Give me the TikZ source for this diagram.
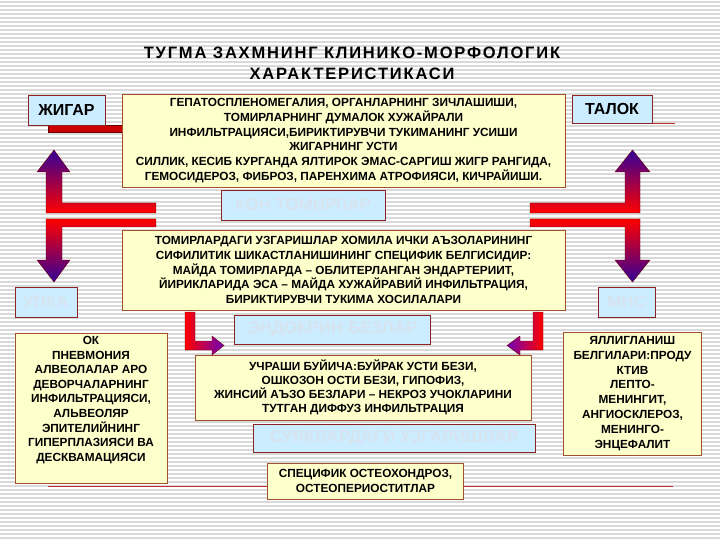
\documentclass[tikz,border=0pt]{standalone}
\usepackage{fontspec}
\setmainfont{Liberation Sans}
\newfontfamily\titlefont[LetterSpace=11]{Liberation Sans}
\definecolor{lblue}{HTML}{CCECFF}
\definecolor{lborder}{HTML}{8B2323}
\definecolor{ybg}{HTML}{FFFFCC}
\definecolor{yborder}{HTML}{A0522D}
\definecolor{fade}{HTML}{D6E4F0}
\definecolor{stripe}{HTML}{D9D9D9}
\definecolor{arrred}{HTML}{FF0000}
\definecolor{arrmid}{HTML}{CC0044}
\definecolor{arrblue}{HTML}{330099}
\definecolor{linered}{HTML}{C03030}
\definecolor{barred}{HTML}{CC0000}
\begin{document}
\begin{tikzpicture}[x=1pt,y=-1pt,
  stripeline/.style={draw=stripe,line width=1.1pt},
  lbox/.style={draw=lborder,fill=lblue,line width=0.8pt,inner sep=0pt,font=\bfseries\fontsize{16}{18}\selectfont},
  flbl/.style={lbox,text=fade,font=\bfseries\fontsize{17}{20}\selectfont},
  ybox/.style={draw=yborder,fill=ybg,line width=0.8pt,inner sep=0pt,align=center,font=\bfseries\fontsize{11.8}{14.8}\selectfont},
  ytext/.style={inner sep=0pt,align=center,font=\bfseries\fontsize{11.8}{14.6}\selectfont},
  titlestyle/.style={inner sep=0pt,font=\titlefont\bfseries\fontsize{16.5}{20}\selectfont},
  arrowshape/.style={draw=black!60!red,line width=0.4pt},
  thinred/.style={draw=linered,line width=0.9pt}]
\useasboundingbox (0,0) rectangle (720,540);
\fill[white] (0,0) rectangle (720,540);
\foreach \y in {2,6,...,538} \draw[stripeline] (0,\y) -- (720,\y);

% title
\node[titlestyle] (title1) at (352,53) {ТУГМА ЗАХМНИНГ КЛИНИКО-МОРФОЛОГИК};
\node[titlestyle] (title2) at (352,74) {ХАРАКТЕРИСТИКАСИ};

% red lines
\coordinate (barL) at (48,128.5);
\coordinate (barR) at (124,128.5);
\draw[draw=black!60!red,fill=barred,line width=0.4pt] (48,125) rectangle (124,132);
\coordinate (tlL) at (572,123);
\coordinate (tlR) at (675,123);
\draw[thinred] (tlL) -- (tlR);
\coordinate (blL) at (48,486);
\coordinate (blR) at (673,486);
\draw[thinred] (blL) -- (blR);

% big arrows
\shadedraw[arrowshape,top color=arrblue,middle color=arrmid,bottom color=arrred]
  (46,213) -- (46,172) -- (37,172) -- (54,150) -- (70,172) -- (62,172) -- (62,203) -- (156,203) -- (156,213) -- cycle;
\shadedraw[arrowshape,top color=arrred,middle color=arrmid,bottom color=arrblue]
  (46,219) -- (156,219) -- (156,227) -- (62,227) -- (62,260) -- (70,260) -- (54,282) -- (37,260) -- (46,260) -- cycle;
\shadedraw[arrowshape,top color=arrblue,middle color=arrmid,bottom color=arrred]
  (640,213) -- (640,172) -- (650,172) -- (632.5,150) -- (615,172) -- (625,172) -- (625,203) -- (530,203) -- (530,213) -- cycle;
\shadedraw[arrowshape,top color=arrred,middle color=arrmid,bottom color=arrblue]
  (640,219) -- (530,219) -- (530,227) -- (625,227) -- (625,260) -- (615,260) -- (632.5,282) -- (650,260) -- (640,260) -- cycle;

% small arrows
\shadedraw[arrowshape,left color=arrred,right color=arrblue!70!magenta]
  (185,312) -- (195,312) -- (195,341) -- (212,341) -- (212,336) -- (224,345.5) -- (212,355) -- (212,350) -- (185,350) -- cycle;
\shadedraw[arrowshape,left color=arrblue!70!magenta,right color=arrred]
  (543,312) -- (533,312) -- (533,341) -- (520,341) -- (520,336) -- (507,345.5) -- (520,355) -- (520,350) -- (543,350) -- cycle;

% label boxes
\node[lbox,minimum width=77pt,minimum height=30pt] (jigar) at (66.5,110) {ЖИГАР};
\node[lbox,minimum width=80pt,minimum height=28pt] (talok) at (612,109) {ТАЛОК};
\node[flbl,minimum width=164pt,minimum height=30pt] (kon) at (303,205) {КОН ТОМИРЛАР};
\node[flbl,minimum width=62pt,minimum height=30pt] (upka) at (46,302) {УПКА};
\node[flbl,minimum width=57pt,minimum height=30pt] (mns) at (626.5,302) {МНС};
\node[flbl,minimum width=196pt,minimum height=29pt] (endo) at (332.5,329.5) {ЭНДОКРИН БЕЗЛАР};
\node[flbl,minimum width=282pt,minimum height=28pt] (suyak) at (394,438) {СУЯКЛАРДАГИ УЗГАРИШЛАР};

% yellow boxes
\node[ybox,minimum width=443pt,minimum height=93pt] (top) at (343.5,140.5)
  {ГЕПАТОСПЛЕНОМЕГАЛИЯ, ОРГАНЛАРНИНГ ЗИЧЛАШИШИ,\\
   ТОМИРЛАРНИНГ ДУМАЛОК ХУЖАЙРАЛИ\\
   ИНФИЛЬТРАЦИЯСИ,БИРИКТИРУВЧИ ТУКИМАНИНГ УСИШИ\\
   ЖИГАРНИНГ УСТИ\\
   СИЛЛИК, КЕСИБ КУРГАНДА ЯЛТИРОК ЭМАС-САРГИШ ЖИГР РАНГИДА,\\
   ГЕМОСИДЕРОЗ, ФИБРОЗ, ПАРЕНХИМА АТРОФИЯСИ, КИЧРАЙИШИ.};
\node[ybox,minimum width=443pt,minimum height=80pt] (mid) at (343.5,270)
  {ТОМИРЛАРДАГИ УЗГАРИШЛАР ХОМИЛА ИЧКИ АЪЗОЛАРИНИНГ\\
   СИФИЛИТИК ШИКАСТЛАНИШИНИНГ СПЕЦИФИК БЕЛГИСИДИР:\\
   МАЙДА ТОМИРЛАРДА – ОБЛИТЕРЛАНГАН ЭНДАРТЕРИИТ,\\
   ЙИРИКЛАРИДА ЭСА – МАЙДА ХУЖАЙРАВИЙ ИНФИЛЬТРАЦИЯ,\\
   БИРИКТИРУВЧИ ТУКИМА ХОСИЛАЛАРИ};
\node[ybox,minimum width=336pt,minimum height=65pt,font=\bfseries\fontsize{11.8}{14}\selectfont] (uch) at (363,387.5)
  {УЧРАШИ БУЙИЧА:БУЙРАК УСТИ БЕЗИ,\\
   ОШКОЗОН ОСТИ БЕЗИ, ГИПОФИЗ,\\
   ЖИНСИЙ АЪЗО БЕЗЛАРИ – НЕКРОЗ УЧОКЛАРИНИ\\
   ТУТГАН ДИФФУЗ ИНФИЛЬТРАЦИЯ};
\node[ybox,minimum width=152pt,minimum height=150pt] (okbox) at (91,408) {};
\node[ytext] (oktext) at (91,400)
  {ОК\\ ПНЕВМОНИЯ\\ АЛВЕОЛАЛАР АРО\\ ДЕВОРЧАЛАРНИНГ\\ ИНФИЛЬТРАЦИЯСИ,\\ АЛЬВЕОЛЯР\\ ЭПИТЕЛИЙНИНГ\\ ГИПЕРПЛАЗИЯСИ ВА\\ ДЕСКВАМАЦИЯСИ};
\node[ybox,minimum width=138pt,minimum height=123pt] (yal) at (632.5,393.5)
  {ЯЛЛИГЛАНИШ\\ БЕЛГИЛАРИ:ПРОДУ\\ КТИВ\\ ЛЕПТО-\\ МЕНИНГИТ,\\ АНГИОСКЛЕРОЗ,\\ МЕНИНГО-\\ ЭНЦЕФАЛИТ};
\node[ybox,minimum width=196pt,minimum height=36pt] (spec) at (365.5,481)
  {СПЕЦИФИК ОСТЕОХОНДРОЗ,\\ ОСТЕОПЕРИОСТИТЛАР};
\end{tikzpicture}
\end{document}
